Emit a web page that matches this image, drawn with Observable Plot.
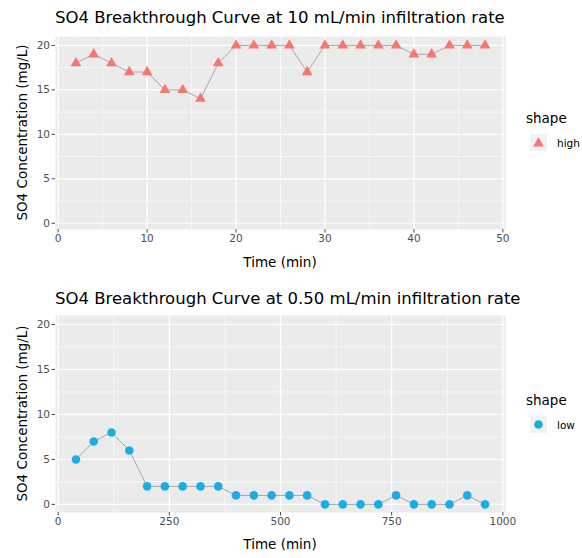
<!DOCTYPE html>
<html>
<head>
<meta charset="utf-8">
<script src="https://cdn.jsdelivr.net/npm/d3@7"></script>
<script src="https://cdn.jsdelivr.net/npm/@observablehq/plot@0.6"></script>
<style>
  html, body { margin: 0; padding: 0; background: white; }
  svg { display: block; }
</style>
</head>
<body>
<div id="chart"></div>
<script>
// ---- data ----
const highTime = [2, 4, 6, 8, 10, 12, 14, 16, 18, 20, 22, 24, 26, 28, 30, 32, 34, 36, 38, 40, 42, 44, 46, 48];
const highConc = [18, 19, 18, 17, 17, 15, 15, 14, 18, 20, 20, 20, 20, 17, 20, 20, 20, 20, 20, 19, 19, 20, 20, 20];
const lowTime = [40, 80, 120, 160, 200, 240, 280, 320, 360, 400, 440, 480, 520, 560, 600, 640, 680, 720, 760, 800, 840, 880, 920, 960];
const lowConc = [5, 7, 8, 6, 2, 2, 2, 2, 2, 1, 1, 1, 1, 1, 0, 0, 0, 0, 1, 0, 0, 0, 1, 0];

const highXTicks = [0, 10, 20, 30, 40, 50];
const highXMinor = [5, 15, 25, 35, 45];
const lowXTicks = [0, 250, 500, 750, 1000];
const lowXMinor = [125, 375, 625, 875];
const yTicks = [0, 5, 10, 15, 20];
const yMinor = [2.5, 7.5, 12.5, 17.5];

const titles = ["SO4 Breakthrough Curve at 10 mL/min infiltration rate",
                "SO4 Breakthrough Curve at 0.50 mL/min infiltration rate"];
const xTitle = "Time (min)";
const yTitle = "SO4 Concentration (mg/L)";
const legendTitle = "shape";
const legendLabels = ["high", "low"];
const colors = ["#F8766D", "#1AAFE0"];
const symbols = ["triangle", "circle"];

const font = "'DejaVu Sans', Verdana, sans-serif";
const W = 582, H = 279;
const mL = 55, mR = 77, mT = 36;

function makeChart(cfg) {
  const data = cfg.time.map((t, i) => ({t, c: cfg.conc[i]}));
  const mB = cfg.mB;
  const chart = Plot.plot({
    width: W, height: H,
    marginLeft: mL, marginRight: mR, marginTop: mT, marginBottom: mB,
    style: {fontFamily: font, background: "white", overflow: "visible"},
    x: {domain: cfg.xDomain},
    y: {domain: cfg.yDomain},
    marks: [
      Plot.frame({fill: "#EBEBEB", stroke: null}),
      Plot.gridX(cfg.xMinor, {stroke: "white", strokeOpacity: 1, strokeWidth: 0.6}),
      Plot.gridY(yMinor, {stroke: "white", strokeOpacity: 1, strokeWidth: 0.6}),
      Plot.gridX(cfg.xTicks, {stroke: "white", strokeOpacity: 1, strokeWidth: 1.2}),
      Plot.gridY(yTicks, {stroke: "white", strokeOpacity: 1, strokeWidth: 1.2}),
      Plot.line(data, {x: "t", y: "c", stroke: "#A8A8A8", strokeWidth: 1}),
      Plot.dot(data, {x: "t", y: "c", symbol: () => cfg.symbol, r: cfg.r, fill: cfg.color, stroke: "none"}),
      Plot.axisX(cfg.xTicks, {tickSize: 3.5, tickPadding: 2, fontSize: 10.5, color: "#4D4D4D", label: null, tickFormat: d => String(d)}),
      Plot.axisY(yTicks, {tickSize: 3.5, tickPadding: 2, fontSize: 10.5, color: "#4D4D4D", label: null, tickFormat: d => String(d)})
    ]
  });
  const svg = d3.select(chart);
  const panelCx = mL + (W - mL - mR) / 2;
  const panelCy = mT + (H - mT - mB) / 2;
  const addText = (sel, x, y, size, txt, anchor) =>
    sel.append("text").attr("x", x).attr("y", y)
      .attr("font-size", size).attr("fill", "black").attr("font-family", font)
      .attr("text-anchor", anchor || "start").text(txt);
  addText(svg, mL, cfg.titleY, 16.5, cfg.title);
  addText(svg, panelCx, cfg.xTitleY, 13.5, xTitle, "middle");
  svg.append("text").attr("transform", `translate(27,${panelCy}) rotate(-90)`)
    .attr("text-anchor", "middle").attr("font-size", 13.5).attr("fill", "black").attr("font-family", font)
    .text(yTitle);
  // legend
  const lg = svg.append("g").attr("transform", `translate(0,${cfg.legendY})`);
  addText(lg, 526, 0, 13.5, legendTitle);
  lg.append("rect").attr("x", 530).attr("y", 11).attr("width", 17).attr("height", 17)
    .attr("fill", "#F2F2F2");
  lg.append("path")
    .attr("d", d3.symbol(cfg.symbol === "triangle" ? d3.symbolTriangle : d3.symbolCircle, Math.PI * cfg.r * cfg.r)())
    .attr("transform", `translate(538.5,${cfg.symbol === "triangle" ? 20.5 : 19.5})`)
    .attr("fill", cfg.color);
  addText(lg, 557, 23.5, 10.5, cfg.legendLabel);
  return chart;
}

const root = document.getElementById("chart");
root.appendChild(makeChart({
  time: highTime, conc: highConc, xDomain: [-0.3, 50.3], yDomain: [-0.7, 21],
  xTicks: highXTicks, xMinor: highXMinor, mB: 50,
  title: titles[0], color: colors[0], symbol: symbols[0], r: 4,
  titleY: 23, xTitleY: 267, legendY: 123, legendLabel: legendLabels[0]
}));
root.appendChild(makeChart({
  time: lowTime, conc: lowConc, xDomain: [-6, 1006], yDomain: [-0.9, 21],
  xTicks: lowXTicks, xMinor: lowXMinor, mB: 46,
  title: titles[1], color: colors[1], symbol: symbols[1], r: 4.3,
  titleY: 25, xTitleY: 270, legendY: 126, legendLabel: legendLabels[1]
}));
</script>
</body>
</html>
